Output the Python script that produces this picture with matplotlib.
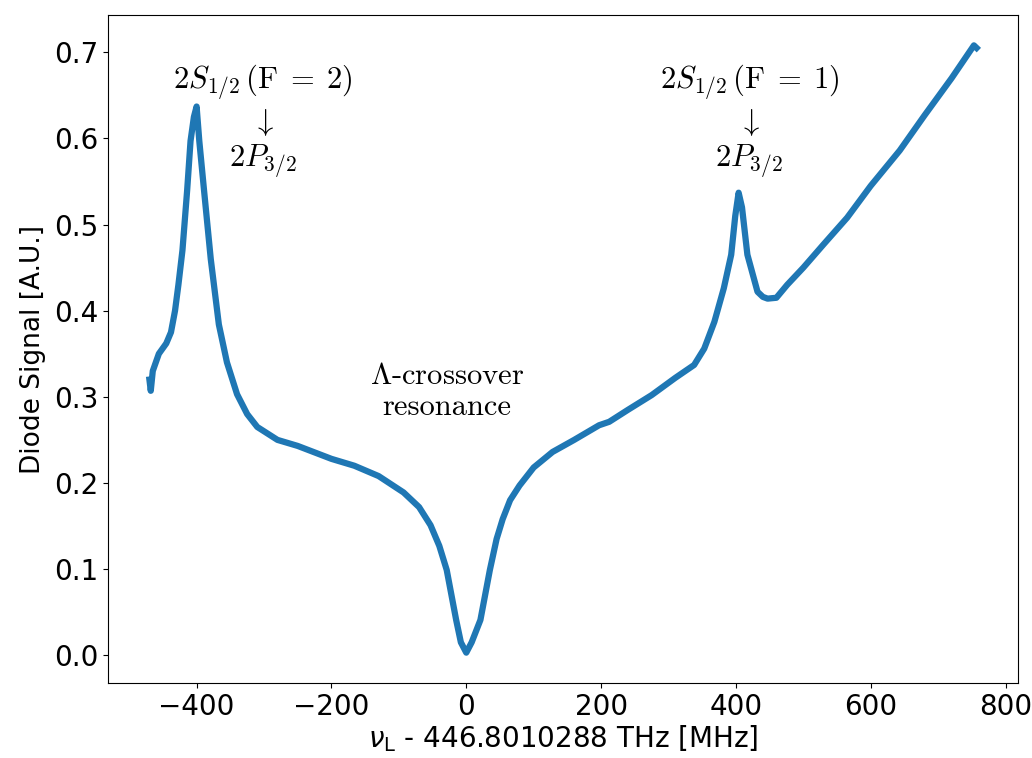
import matplotlib
matplotlib.use("Agg")
import matplotlib.pyplot as plt
import numpy as np

# detuning [MHz] and diode signal [A.U.]
freq = [-470, -468, -465, -456, -445, -438, -432, -427, -421, -414, -409,
        -404, -400, -396, -389, -379, -367, -355, -340, -325, -310, -280,
        -250, -200, -166, -130, -93, -70, -53, -40, -29, -15, -8, 0, 8, 21,
        35, 45, 54, 65, 79, 100, 128, 160, 197, 212, 240, 275, 310, 338,
        353, 368, 382, 393, 399, 404, 409, 417, 432, 440, 447, 460, 476,
        500, 530, 565, 600, 643, 680, 720, 753, 757]
signal = [0.32, 0.307, 0.33, 0.35, 0.362, 0.375, 0.40, 0.43, 0.47, 0.54,
          0.597, 0.625, 0.637, 0.597, 0.54, 0.46, 0.384, 0.34, 0.303, 0.28,
          0.265, 0.25, 0.243, 0.228, 0.22, 0.208, 0.189, 0.172, 0.151, 0.127,
          0.099, 0.041, 0.015, 0.003, 0.015, 0.041, 0.099, 0.135, 0.158,
          0.18, 0.197, 0.218, 0.236, 0.25, 0.267, 0.271, 0.285, 0.302, 0.322,
          0.337, 0.356, 0.387, 0.426, 0.465, 0.51, 0.537, 0.52, 0.465, 0.422,
          0.416, 0.414, 0.415, 0.43, 0.45, 0.477, 0.508, 0.545, 0.586, 0.627,
          0.67, 0.708, 0.705]

xticks = [-400, -200, 0, 200, 400, 600, 800]
yticks = [0.0, 0.1, 0.2, 0.3, 0.4, 0.5, 0.6, 0.7]

labels = [
    (-301, 0.62, "$2S_{1/2}\\,(\\mathrm{F}\\;=\\;2)$\n$\\downarrow$\n$2P_{3/2}$"),
    (420, 0.62, "$2S_{1/2}\\,(\\mathrm{F}\\;=\\;1)$\n$\\downarrow$\n$2P_{3/2}$"),
    (-29, 0.306, "$\\Lambda$-crossover\nresonance"),
]

fig = plt.figure(figsize=(10.32, 7.58), dpi=100)
ax = fig.add_axes([0.1047, 0.0989, 0.8817, 0.8813])

ax.plot(freq, signal, color="tab:blue", lw=4.5)

for x, y, s in labels:
    ax.text(x, y, s, ha="center", va="center", multialignment="center",
            fontsize=22, fontfamily="cmr10", math_fontfamily="cm",
            linespacing=1.2)

ax.set_xticks(xticks)
ax.set_yticks(yticks)
ax.tick_params(labelsize=20)
ax.set_xlabel("$\\nu_\\mathrm{L}$ - 446.8010288 THz [MHz]", fontsize=20,
              labelpad=2)
ax.set_ylabel("Diode Signal [A.U.]", fontsize=19, labelpad=6)

fig.savefig("out.png", dpi=100)
